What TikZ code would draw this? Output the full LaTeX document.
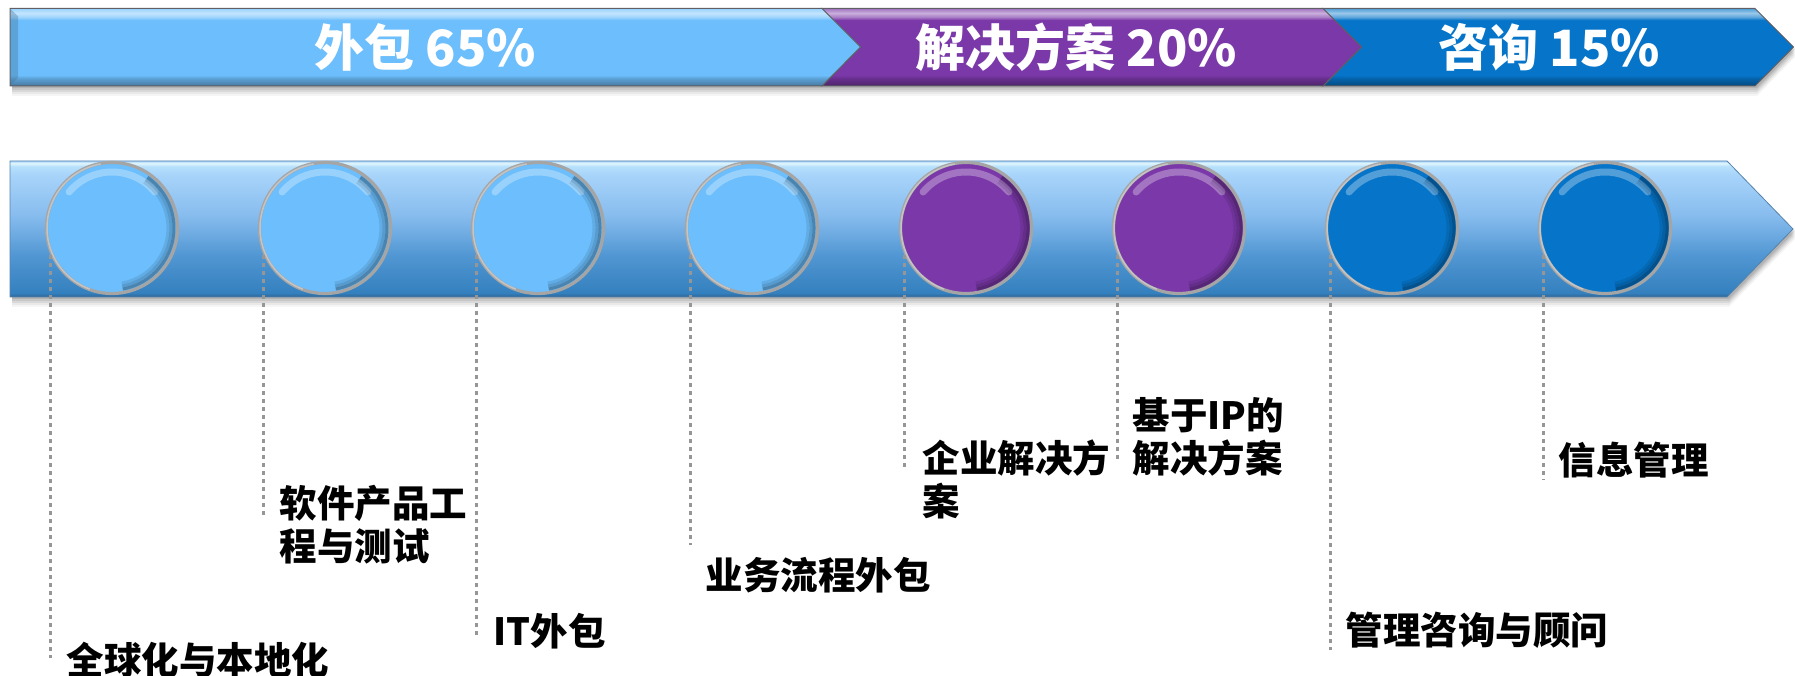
\documentclass[tikz,border=0pt]{standalone}
\usepackage{fontspec}
\IfFontExistsTF{Noto Sans CJK SC Black}
  {\newfontfamily\cjkb{Noto Sans CJK SC Black}}
  {\IfFontExistsTF{Noto Sans CJK SC Bold}
     {\newfontfamily\cjkb{Noto Sans CJK SC Bold}[FakeBold=1.3]}
     {\newfontfamily\cjkb{Noto Sans CJK SC}[FakeBold=2]}}
\usetikzlibrary{calc}
\definecolor{lb}{RGB}{108,190,252}
\definecolor{pu}{RGB}{122,56,168}
\definecolor{db}{RGB}{6,117,201}
\definecolor{ringc}{RGB}{165,165,165}
\definecolor{dotc}{RGB}{150,150,150}
\definecolor{edgec}{RGB}{95,95,100}
\definecolor{bandE}{RGB}{45,100,150}
\definecolor{bandB}{RGB}{52,128,190}
\definecolor{bandL}{RGB}{80,150,210}
\definecolor{bandM}{RGB}{135,188,238}
\definecolor{bandT}{RGB}{168,212,250}
\definecolor{bandT2}{RGB}{182,224,252}
\definecolor{bandH}{RGB}{225,245,252}
\newcommand\mkbarshade[1]{%
\pgfdeclareverticalshading{bar#1}{100bp}{color(0bp)=(#1!55!black); color(25bp)=(#1!55!black); color(26bp)=(#1!68!black); color(30bp)=(#1!85!black); color(32bp)=(#1); color(67.5bp)=(#1); color(69.5bp)=(#1!65!white); color(72bp)=(#1!40!white); color(75bp)=(#1!70!white); color(100bp)=(#1!70!white)}}
\mkbarshade{lb}
\mkbarshade{pu}
\mkbarshade{db}
\pgfdeclareverticalshading{bandsh}{100bp}{color(0bp)=(bandE); color(25bp)=(bandE); color(26.5bp)=(bandB); color(40bp)=(bandL); color(55bp)=(bandM); color(70bp)=(bandT); color(73bp)=(bandT2); color(74.2bp)=(bandH); color(75bp)=(bandT); color(100bp)=(bandT)}
\begin{document}
\begin{tikzpicture}[x=1pt,y=1pt,
  dotline/.style={dotc, line width=3.5pt, dash pattern=on 4pt off 4pt},
  lbl/.style={anchor=north west, inner sep=0pt, align=left, font={\cjkb\fontsize{37.5}{43}\selectfont}, text=black},
  toplbl/.style={inner sep=0pt, text=white, font={\cjkb\fontsize{50}{56}\selectfont}},
  ball/.style={circle, minimum size=131pt, inner sep=0pt, draw=ringc, line width=3.2pt, fill=#1},
]
\useasboundingbox (0,0) rectangle (1795,676);
% soft shadows
\foreach \o/\a in {2/0.10,4/0.08,6/0.07,8/0.05,10/0.04}{
  \fill[black, opacity=\a, shift={(2,-\o)}] (10,667.5) -- (1755,667.5) -- (1793,629) -- (1755,590) -- (10,590) -- cycle;
  \fill[black, opacity=\a, shift={(2,-\o)}] (10,515) -- (1727,515) -- (1793,447) -- (1727,379) -- (10,379) -- cycle;
}
% top bar segments
\shadedraw[shading=bardb, draw=edgec, line width=1pt] (1323,667.5) -- (1755,667.5) -- (1793.5,629) -- (1755,590) -- (1323,590) -- (1361.5,629) -- cycle;
\shadedraw[shading=barpu, draw=edgec, line width=1pt] (822,667.5) -- (1323,667.5) -- (1361.5,629) -- (1323,590) -- (822,590) -- (860.5,629) -- cycle;
\shadedraw[shading=barlb, draw=edgec, line width=1pt] (10,667.5) -- (822,667.5) -- (860.5,629) -- (822,590) -- (10,590) -- cycle;
\fill[lb!60!black, opacity=0.35] (10.5,590.5) -- (10.5,667) -- (18,659.5) -- (18,598) -- cycle;
\node[toplbl] (t1) at (425,629) {外包 65\%};
\node[toplbl] (t2) at (1076,629) {解决方案 20\%};
\node[toplbl] (t3) at (1549,629) {咨询 15\%};
% timeline band
\shadedraw[shading=bandsh, draw=bandE!80, line width=0.8pt] (10,515) -- (1727,515) -- (1793,447) -- (1727,379) -- (10,379) -- cycle;
% circles
\foreach \i/\x/\c in {1/112/lb,2/325/lb,3/538/lb,4/752/lb,5/966/pu,6/1179/pu,7/1392/db,8/1605/db}{
  \node[ball=\c] (c\i) at (\x,448) {};
  \draw[white, opacity=0.30, line width=7pt, line cap=round] ($(c\i.center)+(40:56)$) arc[start angle=40, end angle=140, radius=56];
  \foreach \r/\op in {62/0.30,59/0.18,56/0.09}{
    \draw[black, opacity=\op, line width=3pt] ($(c\i.center)+(-80:\r)$) arc[start angle=-80, end angle=55, radius=\r];
  }
  \draw[white, opacity=0.35, line width=1.5pt] ($(c\i.center)+(100:65)$) arc[start angle=100, end angle=250, radius=65];
}
% labels
\node[lbl] (l1) at (66.5,34) {全球化与本地化};
\node[lbl] (l2) at (279.5,191) {软件产品工\\程与测试};
\node[lbl] (l3) at (493.5,63) {IT外包};
\node[lbl] (l4) at (705.5,119) {业务流程外包};
\node[lbl] (l5) at (922.5,236) {企业解决方\\案};
\node[lbl] (l6) at (1132.5,279) {基于IP的\\解决方案};
\node[lbl] (l7) at (1345.5,64) {管理咨询与顾问};
\node[lbl] (l8) at (1558.5,234) {信息管理};
% dotted leaders
\foreach \i/\y in {1/18,2/158,3/38,4/131,5/206,6/216,7/26,8/196}{
  \coordinate (e\i) at (c\i.204 |- 0,\y);
  \draw[dotline] (c\i.204) -- (e\i);
}
\end{tikzpicture}
\end{document}
